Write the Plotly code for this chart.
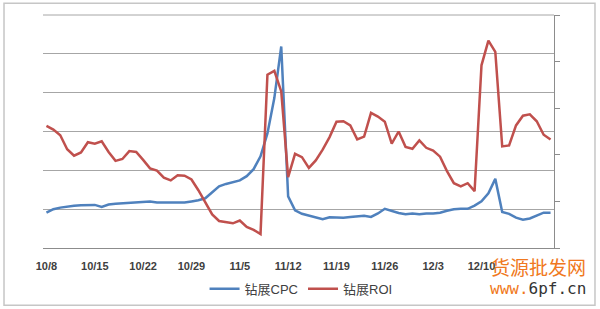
import pandas as pd
import plotly.graph_objects as go

# categories: daily dates from 10/8 to 12/20
dates = [f"{d.month}/{d.day}" for d in pd.date_range("2013-10-08", "2013-12-20")]
tick_labels = ["10/8", "10/15", "10/22", "10/29", "11/5", "11/12", "11/19", "11/26", "12/3", "12/10"]

cpc = [0.91, 1.00, 1.04, 1.07, 1.09, 1.10, 1.11, 1.11, 1.06, 1.12,
       1.14, 1.15, 1.16, 1.18, 1.18, 1.20, 1.17, 1.17, 1.18, 1.17,
       1.17, 1.20, 1.23, 1.28, 1.43, 1.59, 1.65, 1.69, 1.74, 1.85,
       2.03, 2.36, 2.95, 3.86, 5.19, 1.33, 0.97, 0.88, 0.83, 0.79,
       0.74, 0.79, 0.78, 0.78, 0.80, 0.81, 0.83, 0.80, 0.89, 1.01,
       0.95, 0.90, 0.87, 0.89, 0.87, 0.89, 0.89, 0.91, 0.96, 1.00,
       1.01, 1.01, 1.09, 1.20, 1.41, 1.78, 0.93, 0.88, 0.78, 0.73,
       0.76, 0.84, 0.91, 0.91]

roi = [2.62, 2.54, 2.42, 2.12, 1.98, 2.05, 2.27, 2.24, 2.29, 2.06,
       1.87, 1.91, 2.08, 2.06, 1.89, 1.71, 1.66, 1.51, 1.45, 1.56,
       1.55, 1.47, 1.24, 0.98, 0.72, 0.58, 0.56, 0.53, 0.59, 0.45,
       0.39, 0.30, 3.72, 3.80, 3.36, 1.52, 2.02, 1.95, 1.72, 1.88,
       2.11, 2.38, 2.71, 2.72, 2.63, 2.33, 2.39, 2.90, 2.82, 2.71,
       2.24, 2.50, 2.17, 2.13, 2.31, 2.15, 2.09, 1.96, 1.65, 1.39,
       1.32, 1.39, 1.22, 3.92, 4.45, 4.21, 2.18, 2.20, 2.63, 2.84,
       2.87, 2.72, 2.43, 2.33]

BLUE = "#4F81BD"
RED = "#C0504D"
GRID = "#a6a6a6"
FONT = "Liberation Sans, Noto Sans CJK SC, sans-serif"

fig = go.Figure()
fig.add_trace(go.Scatter(x=dates, y=cpc, name="钻展CPC", mode="lines",
                         line=dict(color=BLUE, width=2.5), yaxis="y"))
fig.add_trace(go.Scatter(x=dates, y=roi, name="钻展ROI", mode="lines",
                         line=dict(color=RED, width=2.5), yaxis="y2"))

fig.update_layout(
    width=600, height=309,
    margin=dict(l=43, r=46, t=15, b=61, autoexpand=False),
    paper_bgcolor="white", plot_bgcolor="white",
    font=dict(family=FONT, color="#404040"),
    showlegend=True,
    legend=dict(orientation="h", x=0.505, xanchor="center", y=-0.175, yanchor="middle",
                font=dict(size=13, color="#404040"), itemwidth=30,
                bgcolor="rgba(0,0,0,0)"),
    xaxis=dict(type="category", categoryorder="array", categoryarray=dates,
               range=[-0.5, len(dates) - 0.5], automargin=False,
               tickmode="array", tickvals=tick_labels, ticktext=tick_labels,
               showgrid=False, zeroline=False,
               ticks="outside", ticklen=8, tickcolor="rgba(0,0,0,0)",
               showline=True, linecolor="#8c8c8c", linewidth=1,
               tickfont=dict(size=11, color="#404040", weight="bold")),
    yaxis=dict(range=[0, 6], dtick=1, showticklabels=False, showgrid=True,
               gridcolor=GRID, gridwidth=1, zeroline=False, showline=False,
               ticks="", automargin=False),
    yaxis2=dict(range=[0, 5], dtick=1, overlaying="y", side="right",
                showticklabels=False, showgrid=False, zeroline=False,
                showline=True, linecolor="#8c8c8c", linewidth=1,
                ticks="outside", ticklen=5, tickcolor="#8c8c8c", automargin=False),
    shapes=[
        dict(type="rect", xref="paper", yref="paper",
             x0=-0.0763, x1=1.0802, y0=-0.246, y1=1.050,
             line=dict(color="#c6c6c6", width=1.5), fillcolor="rgba(0,0,0,0)",
             layer="below"),
        dict(type="line", xref="paper", yref="paper", x0=0, x1=1, y0=1, y1=1,
             line=dict(color=GRID, width=1), layer="below"),
    ],
    annotations=[
        dict(text="货源批发网", xref="paper", yref="paper", x=0.969, y=-0.08,
             xanchor="center", yanchor="middle", showarrow=False,
             font=dict(size=19, color="#F07820", family="Noto Sans CJK SC")),
        dict(text="<span style='color:#F07820'>www.</span>6pf.cn", xref="paper", yref="paper",
             x=0.969, y=-0.174, xanchor="center", yanchor="middle", showarrow=False,
             font=dict(size=16, color="#333333", family="DejaVu Sans Mono")),
    ],
)

fig.write_html("out.html")
